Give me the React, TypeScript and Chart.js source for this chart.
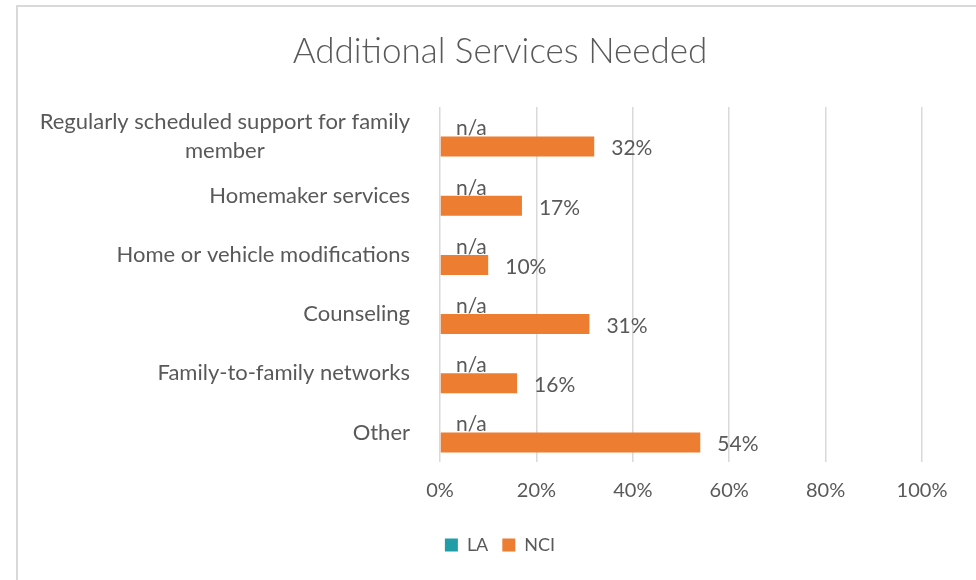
import React, { useEffect, useRef } from "react";
import { Chart, registerables } from "chart.js";

Chart.register(...registerables);

const categories: (string | string[])[] = [
  ["Regularly scheduled support for family", "member"],
  "Homemaker services",
  "Home or vehicle modifications",
  "Counseling",
  "Family-to-family networks",
  "Other",
];
const laValues: (number | null)[] = [null, null, null, null, null, null];
const laLabels: string[] = ["n/a", "n/a", "n/a", "n/a", "n/a", "n/a"];
const nciValues: number[] = [32, 17, 10, 31, 16, 54];
const xTicks: number[] = [0, 20, 40, 60, 80, 100];

const TEXT = "#595959";
const FONT = "Lato, 'Open Sans', sans-serif";

const frame = {
  id: "frame",
  beforeDraw(chart: any) {
    const ctx = chart.ctx;
    ctx.save();
    ctx.strokeStyle = "#d9d9d9";
    ctx.lineWidth = 2;
    ctx.beginPath();
    ctx.moveTo(17, 580);
    ctx.lineTo(17, 6);
    ctx.lineTo(976, 6);
    ctx.stroke();
    ctx.restore();
  },
};

// category labels: right-aligned block, lines centred inside the block (as in Office charts)
const categoryLabels = {
  id: "categoryLabels",
  afterDraw(chart: any) {
    const ctx = chart.ctx;
    const ys = chart.scales.y;
    const right = ys.right - 30;
    const lineH = 29;
    ctx.save();
    ctx.fillStyle = TEXT;
    ctx.font = `22px ${FONT}`;
    ctx.textAlign = "center";
    ctx.textBaseline = "middle";
    categories.forEach((c, i) => {
      const lines = Array.isArray(c) ? c : [c];
      const maxW = Math.max(...lines.map((l) => ctx.measureText(l).width));
      const cx = right - maxW / 2;
      const cy = ys.getPixelForValue(i);
      lines.forEach((l, j) => {
        ctx.fillText(l, cx, cy + (j - (lines.length - 1) / 2) * lineH);
      });
    });
    ctx.restore();
  },
};

const valueLabels = {
  id: "valueLabels",
  afterDatasetsDraw(chart: any) {
    const ctx = chart.ctx;
    const xs = chart.scales.x;
    const ys = chart.scales.y;
    ctx.save();
    ctx.fillStyle = TEXT;
    ctx.font = `21px ${FONT}`;
    ctx.textAlign = "left";
    ctx.textBaseline = "middle";
    const laMeta = chart.getDatasetMeta(0);
    laLabels.forEach((t, i) => {
      const el = laMeta.data[i];
      const y = el && isFinite(el.y) ? el.y : ys.getPixelForValue(i) - 10;
      ctx.fillText(t, xs.getPixelForValue(0) + 16, y + 2);
    });
    const nMeta = chart.getDatasetMeta(1);
    nciValues.forEach((v, i) => {
      const el = nMeta.data[i];
      ctx.fillText(`${v}%`, el.x + 17, el.y + 2);
    });
    ctx.restore();
  },
};

export default function App() {
  const ref = useRef<HTMLCanvasElement>(null);
  useEffect(() => {
    if (!ref.current) return;
    const chart = new Chart(ref.current, {
      type: "bar",
      data: {
        labels: categories as any,
        datasets: [
          {
            label: "LA",
            data: laValues as any,
            backgroundColor: "#209EA8",
            categoryPercentage: 0.675,
            barPercentage: 1,
          },
          {
            label: "NCI",
            data: nciValues,
            backgroundColor: "#ED7D31",
            categoryPercentage: 0.675,
            barPercentage: 1,
          },
        ],
      },
      options: {
        indexAxis: "y",
        responsive: false,
        animation: false,
        layout: { padding: { top: 0, left: 78, right: 54, bottom: 16 } },
        scales: {
          x: {
            min: 0,
            max: 100,
            afterBuildTicks: (s: any) => {
              s.ticks = xTicks.map((v) => ({ value: v }));
            },
            afterFit: (s: any) => {
              s.height = 60;
            },
            grid: { color: "#d9d9d9", lineWidth: 1.5, drawTicks: false },
            border: { display: false },
            ticks: {
              padding: 17,
              color: TEXT,
              font: { family: FONT, size: 20 },
              callback: (v: any) => `${v}%`,
            },
          },
          y: {
            afterFit: (s: any) => {
              s.width = 362;
            },
            grid: { display: false, drawTicks: false },
            border: { display: false },
            ticks: {
              autoSkip: false,
              color: "rgba(0,0,0,0)",
              padding: 30,
              font: { family: FONT, size: 22, lineHeight: 1.32 },
            },
          },
        },
        plugins: {
          title: {
            display: true,
            text: "Additional Services Needed",
            color: TEXT,
            font: { family: FONT, size: 35, weight: "300" as any, lineHeight: 1.2 },
            padding: { top: 31, bottom: 34 },
          },
          legend: {
            position: "bottom",
            labels: {
              boxWidth: 13,
              boxHeight: 13,
              padding: 14,
              color: TEXT,
              font: { family: FONT, size: 18 },
            },
          },
          tooltip: { enabled: false },
        },
      },
      plugins: [frame, valueLabels, categoryLabels],
    });
    return () => chart.destroy();
  }, []);
  return (
    <div style={{ position: "fixed", left: 0, top: 0, width: 976, height: 580, background: "#fff" }}>
      <canvas ref={ref} width={976} height={580} />
    </div>
  );
}
